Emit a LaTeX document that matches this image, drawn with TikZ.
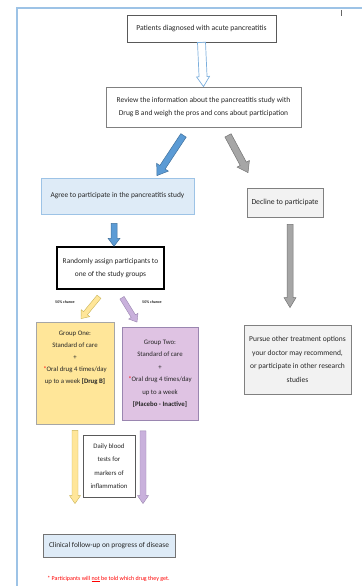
\documentclass[tikz,border=0pt]{standalone}
\usepackage{fontspec}
\setmainfont{Carlito}
\usetikzlibrary{calc}

\definecolor{framebl}{HTML}{9DC3E6}
\definecolor{textgray}{HTML}{262626}
\definecolor{agreefill}{HTML}{DEEBF7}
\definecolor{greyfill}{HTML}{F2F2F2}
\definecolor{onefill}{HTML}{FFE699}
\definecolor{twofill}{HTML}{DFC3E3}
\definecolor{blueshaft}{HTML}{5B9BD5}
\definecolor{blueline}{HTML}{41719C}
\definecolor{purplefill}{HTML}{C9B1DC}
\definecolor{purpleline}{HTML}{9A86B0}
\definecolor{yellowline}{HTML}{C9B458}

% block arrow from #2 to #3, half shaft #4, half head #5, head length #6
\newcommand{\fatarrow}[6][]{%
  \coordinate (fat-s) at #2;
  \coordinate (fat-e) at #3;
  \coordinate (fat-h) at ($(fat-e)!#6!(fat-s)$);
  \draw[#1] ($(fat-s)!#4!90:(fat-e)$) -- ($(fat-h)!#4!-90:(fat-s)$) -- ($(fat-h)!#5!-90:(fat-s)$)
    -- (fat-e) -- ($(fat-h)!#5!90:(fat-s)$) -- ($(fat-h)!#4!90:(fat-s)$) -- ($(fat-s)!#4!-90:(fat-e)$) -- cycle;
}

\begin{document}
\begin{tikzpicture}[x=1pt, y=-1pt, font=\fontsize{7.4}{12.5}\selectfont, text=textgray]

    % Styles
    \tikzstyle{plainbox} = [rectangle, align=center, inner sep=2pt, draw=black!65, line width=0.8pt, fill=white]
    \tikzstyle{greybox} = [plainbox, draw=black!50]
    \tikzstyle{agreebox} = [plainbox, draw=framebl, fill=agreefill]
    \tikzstyle{declinebox} = [plainbox, draw=black!50, fill=greyfill]
    \tikzstyle{randombox} = [plainbox, draw=black, line width=1.5pt]
    \tikzstyle{onebox} = [plainbox, draw=black!35, fill=onefill, inner sep=4pt, font=\fontsize{6.8}{12}\selectfont]
    \tikzstyle{twobox} = [plainbox, draw=purpleline, fill=twofill, font=\fontsize{6.8}{12.5}\selectfont]
    \tikzstyle{clinicalbox} = [plainbox, draw=black!55, fill=agreefill]
    \tikzstyle{chance} = [font=\fontsize{4}{5}\selectfont\bfseries, inner sep=0pt]
    \tikzstyle{openarrow} = [draw=blueshaft!80, line width=0.7pt, fill=white]
    \tikzstyle{bluearrow} = [draw=blueline, line width=0.5pt, fill=blueshaft]
    \tikzstyle{greyarrow} = [draw=black!55, line width=0.5pt, fill=black!35]
    \tikzstyle{yellowarrow} = [draw=yellowline, line width=0.4pt, fill=onefill]
    \tikzstyle{purplearrow} = [draw=purpleline, line width=0.4pt, fill=purplefill]

    \useasboundingbox (0,0) rectangle (362,586);

    % Frame
    \draw[framebl, line width=1.2pt] (17,586) -- (17,8) -- (362,8);
    \draw[black!60, line width=0.6pt] (341,10) -- (341,16);

    % Nodes
    \node (patients) [plainbox, minimum width=149pt, minimum height=27pt, font=\fontsize{7.6}{12.5}\selectfont] at (201.5,28.5) {Patients diagnosed with acute pancreatitis};
    \node (review) [greybox, minimum width=195pt, minimum height=40pt, font=\fontsize{7.5}{12.5}\selectfont] at (203.5,107) {Review the information about the pancreatitis study with\\Drug B and weigh the pros and cons about participation};
    \node (agree) [agreebox, minimum width=153pt, minimum height=36pt] at (117.5,196) {Agree to participate in the pancreatitis study};
    \node (decline) [declinebox, minimum width=76pt, minimum height=29pt, font=\fontsize{7.7}{12.5}\selectfont] at (285,202.5) {Decline to participate};
    \node (random) [randombox, minimum width=107pt, minimum height=42pt] at (110.5,268) {Randomly assign participants to\\one of the study groups};
    \node (chance-one) [chance] at (65,302) {50\% chance};
    \node (chance-two) [chance] at (152,302) {50\% chance};
    \node (group-one) [onebox] at (75,373) {\parbox[c][94pt][t]{70pt}{\centering\vspace{5pt}Group One:\\Standard of care\\+\\{\color{red}*}Oral drug 4 times/day\\up to a week \textbf{[Drug B]}}};
    \node (group-two) [twobox, minimum width=76pt, minimum height=93pt] at (160,374) {Group Two:\\Standard of care\\+\\{\color{red}*}Oral drug 4 times/day\\up to a week\\\textbf{[Placebo - Inactive]}};
    \node (blood) [plainbox, minimum width=52pt, minimum height=62pt, font=\fontsize{6.8}{13.5}\selectfont] at (109,466) {Daily blood\\tests for\\markers of\\inflammation};
    \node (pursue) [declinebox, minimum width=107pt, minimum height=69pt, font=\fontsize{7.5}{13.5}\selectfont] at (297.5,359.5) {Pursue other treatment options\\your doctor may recommend,\\or participate in other research\\studies};
    \node (clinical) [clinicalbox, minimum width=132pt, minimum height=23pt] at (109,545.5) {Clinical follow-up on progress of disease};
    \node (note) [text=red, font=\fontsize{6}{7}\selectfont, inner sep=0pt] at (108.5,579) {* Participants will \underline{not} be told which drug they get.};

    % Arrows
    \fatarrow[openarrow]{(patients.south)}{(review.north)}{4pt}{6.5pt}{10pt}
    \fatarrow[bluearrow]{($(review.south)+(-20,8)$)}{($(agree.north)+(39.5,-2)$)}{3.2pt}{7pt}{10pt}
    \fatarrow[greyarrow]{($(review.south)+(24.5,8)$)}{($(decline.north)+(-37,-15)$)}{3.5pt}{7pt}{10pt}
    \fatarrow[bluearrow]{($(agree.south)+(-3.5,9)$)}{($(random.north)+(3.5,0)$)}{3pt}{6pt}{8pt}
    \fatarrow[greyarrow]{($(decline.south)+(5,7)$)}{($(pursue.north)+(-7.5,-17)$)}{3pt}{6pt}{10pt}
    \fatarrow[yellowarrow]{($(random.south)+(-11.5,7)$)}{($(group-one.north)+(6,-3)$)}{2.5pt}{5.5pt}{7pt}
    \fatarrow[purplearrow]{($(random.south)+(11.5,8)$)}{($(group-two.north)+(-23,-5)$)}{2.5pt}{5.5pt}{7pt}
    \fatarrow[yellowarrow]{($(group-one.south)+(0,6)$)}{($(clinical.north)+(-34,-30)$)}{3pt}{5.5pt}{8pt}
    \fatarrow[purplearrow]{($(group-two.south)+(-17,10)$)}{($(clinical.north)+(34,-30)$)}{3pt}{5.5pt}{8pt}

\end{tikzpicture}
\end{document}
